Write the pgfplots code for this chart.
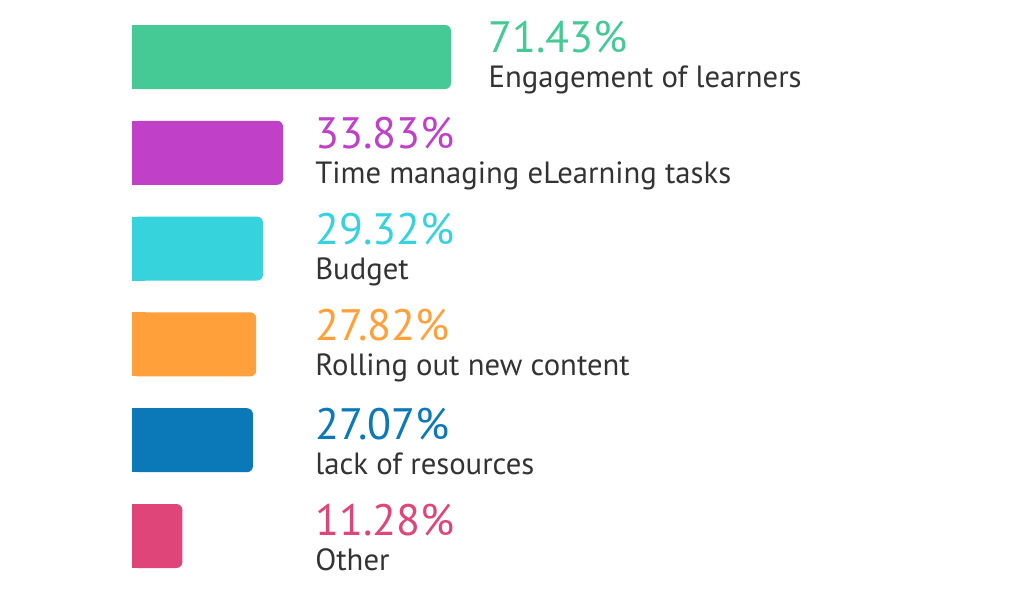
\documentclass[border=0pt]{standalone}
\usepackage{pgfplots}
\pgfplotsset{compat=1.18}
\usepackage{fontspec}
\setmainfont{PT Sans}
\definecolor{cg}{HTML}{45C995}
\definecolor{cp}{HTML}{C040C8}
\definecolor{cc}{HTML}{36D3DC}
\definecolor{co}{HTML}{FFA03A}
\definecolor{cb}{HTML}{0B78B8}
\definecolor{ck}{HTML}{E0457A}
\definecolor{tx}{HTML}{333333}
\newcommand{\lab}[3]{{\fontsize{44}{44}\selectfont\color{#1}#2\%}\\#3}
\begin{document}
\begin{tikzpicture}[x=1pt,y=1pt]
\useasboundingbox (0,0) rectangle (1024,599);
\begin{axis}[
  at={(132pt,15.1pt)}, anchor=south west,
  scale only axis, width=446.6pt, height=574.8pt,
  xmin=0, xmax=100, ymin=-0.5, ymax=5.5, y dir=reverse,
  hide axis, clip=false,
  bx/.style={xbar, bar shift=0pt, bar width=64pt, draw=none},
  lb/.style={draw=none, mark=none, nodes near coords={#1},
     every node near coord/.style={anchor=west, inner sep=0pt,
     align=left, text=tx, font=\fontsize{30.7}{35}\selectfont, yshift=-1pt}},
]
\addplot[bx, fill=cg, rounded corners=6pt] coordinates {(71.43,0)};
\addplot[bx, fill=cg] coordinates {(3,0)};
\addplot[bx, fill=cp, rounded corners=6pt] coordinates {(33.83,1)};
\addplot[bx, fill=cp] coordinates {(3,1)};
\addplot[bx, fill=cc, rounded corners=6pt] coordinates {(29.32,2)};
\addplot[bx, fill=cc] coordinates {(3,2)};
\addplot[bx, fill=co, rounded corners=6pt] coordinates {(27.82,3)};
\addplot[bx, fill=co] coordinates {(3,3)};
\addplot[bx, fill=cb, rounded corners=6pt] coordinates {(27.07,4)};
\addplot[bx, fill=cb] coordinates {(3,4)};
\addplot[bx, fill=ck, rounded corners=6pt] coordinates {(11.28,5)};
\addplot[bx, fill=ck] coordinates {(3,5)};
\addplot[lb={\lab{cg}{71.43}{Engagement of learners}}] coordinates {(79.8,0)};
\addplot[lb={\lab{cp}{33.83}{Time managing eLearning tasks}}] coordinates {(41.0,1)};
\addplot[lb={\lab{cc}{29.32}{Budget}}] coordinates {(41.0,2)};
\addplot[lb={\lab{co}{27.82}{Rolling out new content}}] coordinates {(41.0,3)};
\addplot[lb={\lab{cb}{27.07}{lack of resources}}] coordinates {(41.0,4)};
\addplot[lb={\lab{ck}{11.28}{Other}}] coordinates {(41.0,5)};
\end{axis}
\end{tikzpicture}
\end{document}
